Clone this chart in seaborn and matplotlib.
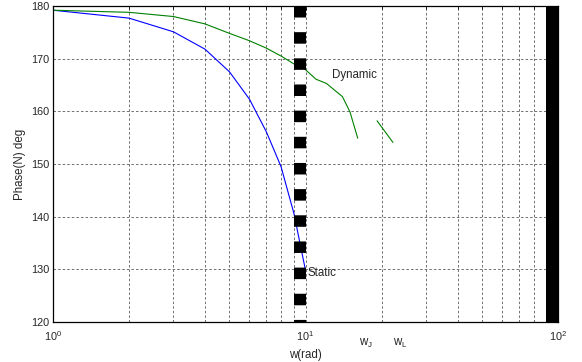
import numpy as np
import pandas as pd
import matplotlib
matplotlib.use("Agg")
import matplotlib.pyplot as plt
import matplotlib.ticker as mticker
import seaborn as sns

# ---- data ----
static_w = [1, 2, 3, 4, 5, 6, 7, 8, 9, 10]
static_phase = [179.2, 177.7, 175.1, 171.8, 167.5, 162.3, 156.1, 149.5, 140.6, 129.8]

dyn1_w = [1, 2, 3, 4, 5, 6, 7, 8, 9, 10, 11, 12.1, 14, 15, 16.1]
dyn1_phase = [179.2, 178.8, 178.0, 176.6, 174.8, 173.4, 172.0, 170.5, 169.0, 167.9,
              166.1, 165.3, 162.8, 159.9, 154.9]
dyn2_w = [19.2, 22.2]
dyn2_phase = [158.2, 154.1]

marker_w_dashed = 9.5      # thick dashed vertical line
marker_w_solid = 94.7      # thick solid vertical line
y_ticks = [120, 130, 140, 150, 160, 170, 180]
x_ticks = [1, 10, 100]

label_static = ("Static", 10.14, 129.3)
label_dynamic = ("Dynamic", 12.7, 166.9)
below_labels = [(r"$\mathregular{w_J}$", 17.4), (r"$\mathregular{w_L}$", 23.7)]

# ---- style ----
sns.set_style("white")
plt.rcParams["font.family"] = ["Liberation Sans", "DejaVu Sans"]
plt.rcParams["mathtext.fontset"] = "custom"
plt.rcParams["mathtext.rm"] = "Liberation Sans"
plt.rcParams["mathtext.it"] = "Liberation Sans"

fig = plt.figure(figsize=(5.82, 3.62), dpi=100)
ax = fig.add_axes([53 / 582, 1 - 322 / 362, 505 / 582, 316 / 362])

ax.set_xscale("log")
ax.set_xlim(1, 100)
ax.set_ylim(120, 180)

df_static = pd.DataFrame({"w": static_w, "phase": static_phase})
df_dyn = pd.DataFrame({
    "w": dyn1_w + dyn2_w,
    "phase": dyn1_phase + dyn2_phase,
    "seg": [0] * len(dyn1_w) + [1] * len(dyn2_w),
})

# grid
ax.set_yticks(y_ticks)
ax.xaxis.set_major_locator(mticker.FixedLocator(x_ticks))
ax.xaxis.set_minor_locator(mticker.LogLocator(base=10, subs=np.arange(2, 10)))
ax.xaxis.set_minor_formatter(mticker.NullFormatter())
ax.xaxis.set_major_formatter(mticker.LogFormatterSciNotation())
grid_kw = dict(color="0.35", linestyle=(0, (3, 2.5)), linewidth=0.6)
ax.grid(True, which="major", axis="both", **grid_kw)
ax.grid(True, which="minor", axis="x", **grid_kw)
ax.set_axisbelow(True)

sns.lineplot(data=df_static, x="w", y="phase", ax=ax, color="#0000ff",
             linewidth=0.8, sort=False, estimator=None)
sns.lineplot(data=df_dyn, x="w", y="phase", units="seg", ax=ax, color="#008000",
             linewidth=0.8, sort=False, estimator=None)

# thick vertical lines
ax.plot([marker_w_dashed, marker_w_dashed], [180, 120], color="black",
        linewidth=8.64, linestyle=(0, (0.96, 1.22)), dash_capstyle="butt", zorder=3)
ax.axvline(marker_w_solid, color="black", linewidth=8.64, zorder=3)

ax.text(label_static[1], label_static[2], label_static[0], fontsize=8.3,
        ha="left", va="center")
ax.text(label_dynamic[1], label_dynamic[2], label_dynamic[0], fontsize=8.3,
        ha="left", va="center")
trans = matplotlib.transforms.blended_transform_factory(ax.transData, ax.transAxes)
for txt, wx in below_labels:
    ax.text(wx, -0.068, txt, transform=trans, fontsize=8.3, ha="center", va="center")

ax.set_xlabel("w(rad)", fontsize=8.3, labelpad=4.5)
ax.set_ylabel("Phase(N) deg", fontsize=8.3, labelpad=4)

ax.tick_params(axis="both", which="both", direction="in", top=True, right=True,
               labelsize=7.8, pad=2.5, length=3, width=0.6, color="black")
ax.tick_params(axis="x", which="both", pad=5)
ax.tick_params(axis="x", which="minor", length=2)

for s in ax.spines.values():
    s.set_visible(True)
    s.set_color("black")
    s.set_linewidth(0.9)

fig.savefig("out.png", dpi=100)
